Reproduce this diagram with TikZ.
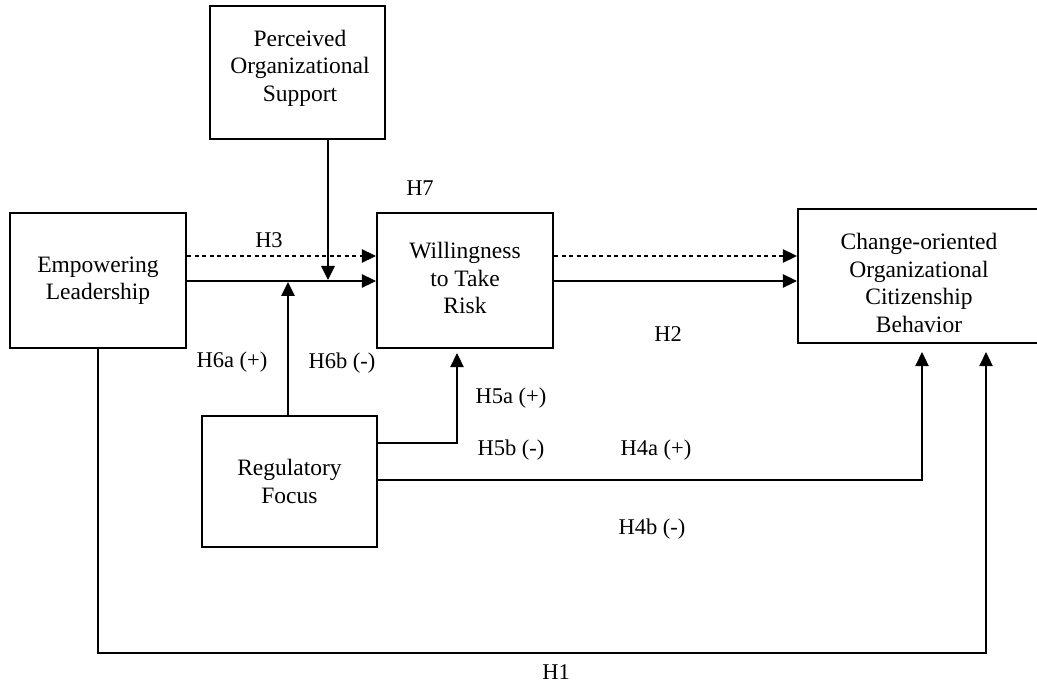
\documentclass[tikz,border=0pt]{standalone}
\usepackage{fontspec}
\setmainfont{Liberation Serif}
\usetikzlibrary{arrows.meta,calc}
\begin{document}
\begin{tikzpicture}[x=1pt,y=-1pt,
  box/.style={draw,line width=2.3pt,inner sep=0pt,align=center,font=\fontsize{23.5}{27.5}\selectfont},
  txt/.style={inner sep=0pt,align=center,font=\fontsize{23.5}{27.5}\selectfont},
  lbl/.style={font=\fontsize{22.5}{27}\selectfont,inner sep=0pt},
  conn/.style={line width=1.3pt},
  arr/.style={conn,-{Triangle[length=14pt,width=13.5pt]}},
  dsh/.style={arr,dash pattern=on 4pt off 3.5pt}
]
\useasboundingbox (0,0) rectangle (1037,687);
\fill[white] (0,0) rectangle (1037,687);

\node[box,minimum width=175pt,minimum height=133pt] (pos) at (297.5,72.5) {};
\node[txt] (post) at (300,68) {Perceived\\Organizational\\Support};
\node[box,minimum width=176pt,minimum height=135pt] (el) at (98,280.5) {Empowering\\Leadership};
\node[box,minimum width=176pt,minimum height=135pt] (wtr) at (465,280.5) {};
\node[txt] (wtrt) at (465,278) {Willingness\\to Take\\Risk};
\node[box,minimum width=242pt,minimum height=134pt] (cocb) at (919,276) {};
\node[txt] (cocbt) at (919,283) {Change-oriented\\Organizational\\Citizenship\\Behavior};
\node[box,minimum width=175pt,minimum height=131pt] (rf) at (289.5,481.5) {Regulatory\\Focus};

\coordinate (ya) at (0,256);
\coordinate (yb) at (0,281);
\coordinate (yc) at (0,443);
\coordinate (yd) at (0,480);
\coordinate (ye) at (0,653);
\coordinate (xp) at (328,0);
\coordinate (xr) at (288,0);
\coordinate (xs) at (457,0);
\coordinate (xt) at (922,0);
\coordinate (xv) at (986,0);

\draw[dsh] (el.east |- ya) -- (wtr.west |- ya);
\draw[arr] (el.east |- yb) -- (wtr.west |- yb);
\draw[arr] (pos.south -| xp) -- ($(xp |- yb)+(0,-1)$);
\draw[arr] (rf.north -| xr) -- ($(xr |- yb)+(0,1)$);
\draw[dsh] (wtr.east |- ya) -- (cocb.west |- ya);
\draw[arr] (wtr.east |- yb) -- (cocb.west |- yb);
\draw[arr] (rf.east |- yc) -| ($(wtr.south -| xs)+(0,4)$);
\draw[arr] (rf.east |- yd) -| ($(cocb.south -| xt)+(0,8)$);
\draw[arr] (el.south) -- (el.south |- ye) -| ($(cocb.south -| xv)+(0,8)$);

\node[lbl] (h3) at (269,240) {H3};
\node[lbl] (h7) at (420,188) {H7};
\node[lbl] (h6a) at (232,362) {H6a (+)};
\node[lbl] (h6b) at (342,363) {H6b (-)};
\node[lbl] (h2) at (668,334) {H2};
\node[lbl] (h5a) at (511,398) {H5a (+)};
\node[lbl] (h5b) at (511,450) {H5b (-)};
\node[lbl] (h4a) at (656,450) {H4a (+)};
\node[lbl] (h4b) at (652,529) {H4b (-)};
\node[lbl] (h1) at (556,672) {H1};
\end{tikzpicture}
\end{document}
